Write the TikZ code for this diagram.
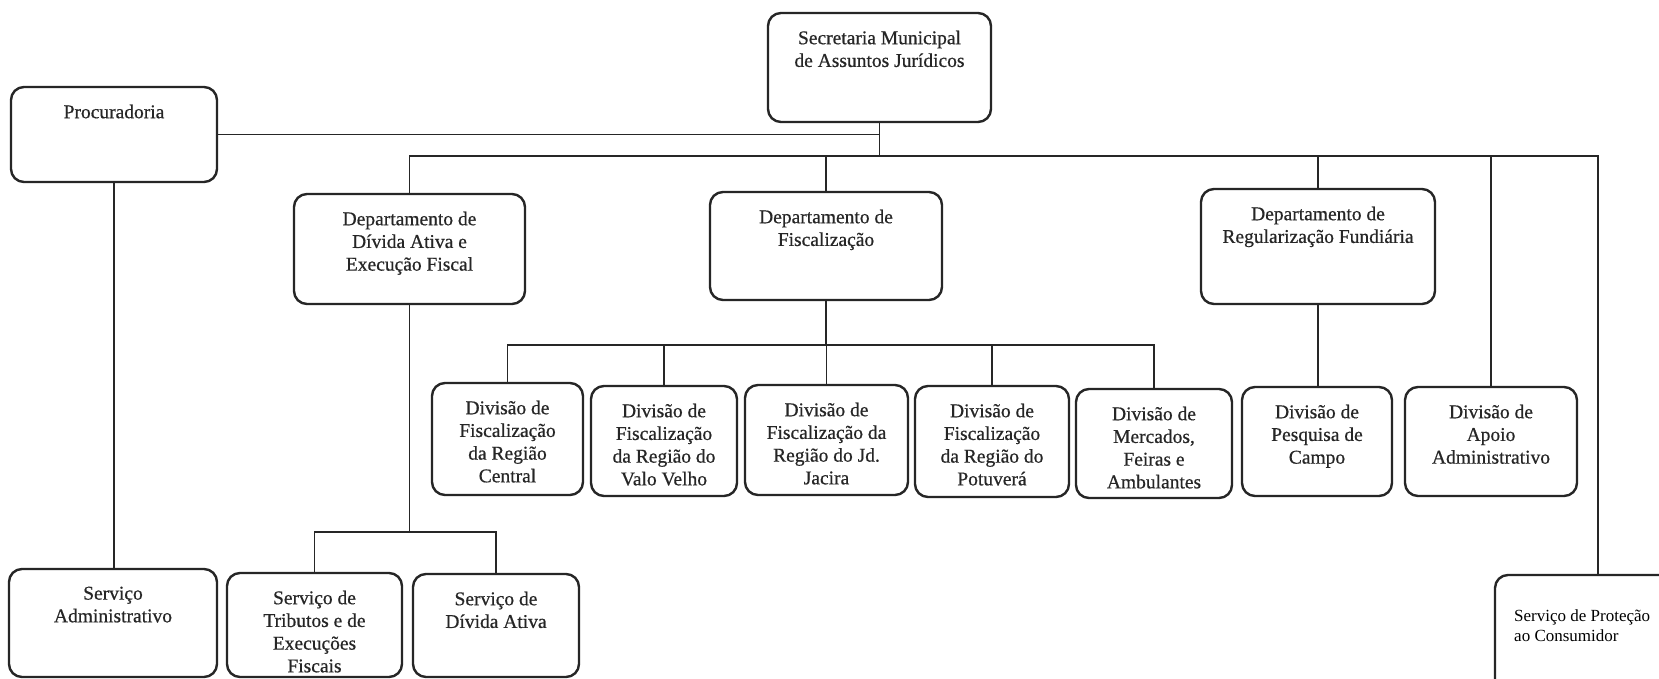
\documentclass[tikz,border=0pt]{standalone}
\usepackage{fontspec}
\setmainfont{Liberation Serif}
\newfontfamily\heavyserif{Liberation Serif}[FakeBold=0.6]
\definecolor{ink}{HTML}{262626}
% box: name, left, top, right, bottom, text (top-aligned, centred)
\newcommand\orgbox[6]{%
  \node[box, minimum width={(#4-#2)*1pt}, minimum height={(#5-#3)*1pt}]
    (#1) at ({(#2+#4)/2},{(#3+#5)/2}) {};
  \node[lbl, anchor=north] (#1-t) at ([yshift=-17.5pt]#1.north) {#6};
}
\begin{document}
\begin{tikzpicture}[x=1pt,y=-1pt,
  box/.style={draw=ink, line width=2.4pt, rounded corners=13pt, inner sep=0pt, outer sep=0pt},
  lbl/.style={align=center, inner sep=0pt, text=ink, font=\heavyserif\fontsize{19.5}{22.7}\selectfont},
  link/.style={draw=ink, line width=1.9pt}]
\fill[white] (0,0) rectangle (1659,679);
\useasboundingbox (0,0) rectangle (1659,679);

% top level
\orgbox{sec}{768}{13}{991}{122}{Secretaria Municipal\\de Assuntos Jurídicos}
\orgbox{proc}{11}{87}{217}{182}{Procuradoria}

% departments
\orgbox{dda}{294}{194}{525}{304}{Departamento de\\Dívida Ativa e\\Execução Fiscal}
\orgbox{dfis}{710}{192}{942}{300}{Departamento de\\Fiscalização}
\orgbox{dreg}{1201}{189}{1435}{304}{Departamento de\\Regularização Fundiária}

% divisions
\orgbox{div1}{432}{383}{583}{495}{Divisão de\\Fiscalização\\da Região\\Central}
\orgbox{div2}{591}{386}{737}{496}{Divisão de\\Fiscalização\\da Região do\\Valo Velho}
\orgbox{div3}{745}{385}{908}{495}{Divisão de\\Fiscalização da\\Região do Jd.\\Jacira}
\orgbox{div4}{915}{386}{1069}{497}{Divisão de\\Fiscalização\\da Região do\\Potuverá}
\orgbox{div5}{1076}{389}{1232}{498}{Divisão de\\Mercados,\\Feiras e\\Ambulantes}
\orgbox{pesq}{1242}{387}{1392}{496}{Divisão de\\Pesquisa de\\Campo}
\orgbox{apoio}{1405}{387}{1577}{496}{Divisão de\\Apoio\\Administrativo}

% services
\orgbox{sadm}{9}{569}{217}{677}{Serviço\\Administrativo}
\orgbox{strib}{227}{573}{402}{677}{Serviço de\\Tributos e de\\Execuções\\Fiscais}
\orgbox{sdiv}{413}{574}{579}{677}{Serviço de\\Dívida Ativa}
\node[box, minimum width=180pt, minimum height=125pt] (prot) at (1585,637.5) {};
\node[anchor=north west, align=left, inner sep=0pt, text=black,
      font=\fontsize{17}{20}\selectfont] (prot-t)
  at ([xshift=19pt,yshift=-34.5pt]prot.north west) {Serviço de Proteção\\ao Consumidor};

% bus levels
\coordinate (busR) at (1598,156);
\coordinate (fbus) at (0,345);
\coordinate (sbus) at (0,532);

% connectors
\draw[link] (sec.south) -- (sec.south |- busR);
\draw[link] (proc.east) -- (proc.east -| sec.south);
\draw[link] (dda.north) |- (busR) -- (busR |- prot.north);
\draw[link] (dfis.north) -- (dfis.north |- busR);
\draw[link] (dreg.north) -- (dreg.north |- busR);
\draw[link] (apoio.north) -- (apoio.north |- busR);
\draw[link] (proc.south) -- (proc.south |- sadm.north);

\draw[link] (dda.south) -- (dda.south |- sbus);
\draw[link] (strib.north) |- (sdiv.north |- sbus) -- (sdiv.north);

\draw[link] (dfis.south) -- (dfis.south |- fbus);
\draw[link] (div1.north) |- (div5.north |- fbus) -- (div5.north);
\draw[link] (div2.north) -- (div2.north |- fbus);
\draw[link] (div3.north) -- (div3.north |- fbus);
\draw[link] (div4.north) -- (div4.north |- fbus);

\draw[link] (dreg.south) -- (dreg.south |- pesq.north);
\end{tikzpicture}
\end{document}
